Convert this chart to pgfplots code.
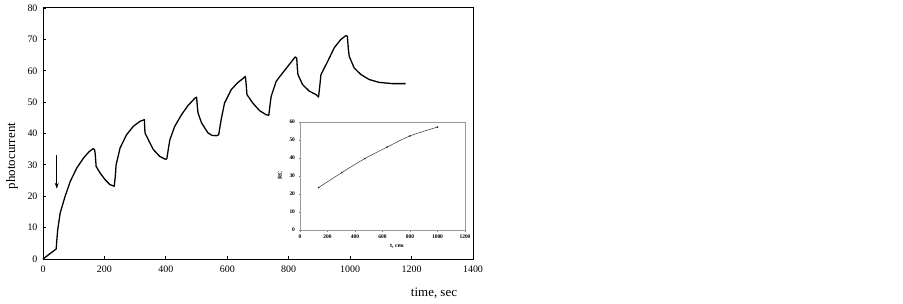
\documentclass[border=0pt]{standalone}
\usepackage{fontspec}
\setmainfont{Liberation Serif}
\usepackage{pgfplots}
\pgfplotsset{compat=1.18}
\usetikzlibrary{arrows.meta}
\begin{document}
\begin{tikzpicture}[x=1bp,y=1bp]
\path[use as bounding box] (0,0) rectangle (903,303);
\begin{axis}[at={(43bp,44bp)}, anchor=south west, scale only axis,
  width=430bp, height=251bp,
  xmin=0, xmax=1400, ymin=0, ymax=80,
  xtick={0,200,...,1400}, ytick={0,10,...,80},
  xtick pos=bottom, ytick pos=left,
  tick align=inside, major tick length=3bp,
  tick style={black, line width=0.8pt},
  axis line style={black, line width=1pt},
  ticklabel style={font=\fontsize{10}{11}\selectfont},
  xticklabel style={yshift=-3bp},
  yticklabel style={xshift=-2bp},
  /pgf/number format/assume math mode=true,
  /pgf/number format/1000 sep={},
  scaled ticks=false,
  clip=false]
\addplot[black, line width=1.3pt, line join=round] coordinates {
(0,0) (20,1.5) (43,3.2) (45,6) (48,9.4) (56,14.7) (72,20) (89,24.8) (110,29) (132,32.2)
(150,34.2) (164,35.2) (168,34.8) (170,33.5) (173,29.5) (186,27.4) (202,25.3) (218,23.7) (232,23.2)
(236,27) (238,30) (251,35.4) (272,39.6) (294,42.3) (316,43.9) (330,44.4)
(332,40.2) (343,38) (359,34.9) (380,32.7) (398,31.8) (403,31.9)
(408,35) (413,38) (429,42.3) (451,46) (472,48.9) (494,51.2) (500,51.6)
(503,48) (505,46.5) (516,43.4) (537,40.2) (550,39.4) (565,39.3) (572,39.6)
(576,42) (580,44.4) (591,49.7) (613,54) (634,56.2) (652,57.6) (659,58.2)
(662,55) (664,52.4) (683,49.7) (705,47.3) (726,46) (735,45.8)
(739,49) (743,51.9) (759,56.6) (780,59.3) (802,62) (821,64.4) (826,64)
(828,61) (830,58.8) (845,55.6) (867,53.5) (889,52.4) (897,51.6)
(901,55) (905,58.8) (927,63) (948,67.3) (969,69.9) (986,71.2) (991,71)
(994,67) (997,64.6) (1013,60.9) (1035,58.8) (1062,57.2) (1094,56.3) (1137,55.9) (1181,55.9)
};
\draw[black, line width=0.7pt, -{Stealth[length=6bp,width=4bp]}] (axis cs:45,33) -- (axis cs:45,22.4);
\end{axis}
\node[font=\fontsize{13}{15}\selectfont] at (434,10) {time, sec};
\node[font=\fontsize{13}{15}\selectfont, rotate=90] at (12,147) {photocurrent};
\begin{axis}[at={(300bp,73bp)}, anchor=south west, scale only axis,
  width=165bp, height=108bp,
  xmin=0, xmax=1200, ymin=0, ymax=60,
  xtick={0,200,...,1200}, ytick={0,10,...,60},
  xtick pos=bottom, ytick pos=left,
  tick align=outside, major tick length=1.5bp,
  tick style={gray, line width=0.5pt},
  axis line style={gray!80, line width=0.6pt},
  axis background/.style={fill=white},
  ticklabel style={font=\bfseries\fontsize{5.5}{6}\selectfont},
  /pgf/number format/assume math mode=true,
  /pgf/number format/1000 sep={},
  scaled ticks=false,
  clip=false]
\addplot[black!80, line width=0.5pt, mark=*, mark size=0.6pt, smooth] coordinates {
(136,23.6) (304,31.9) (472,39.7) (632,46) (798,52.2) (1000,57.2)
};
\end{axis}
\node[font=\bfseries\fontsize{6}{7}\selectfont, rotate=90] at (280,128) {RC};
\node[font=\bfseries\fontsize{6}{7}\selectfont] at (397,57) {t, сек};
\end{tikzpicture}
\end{document}
